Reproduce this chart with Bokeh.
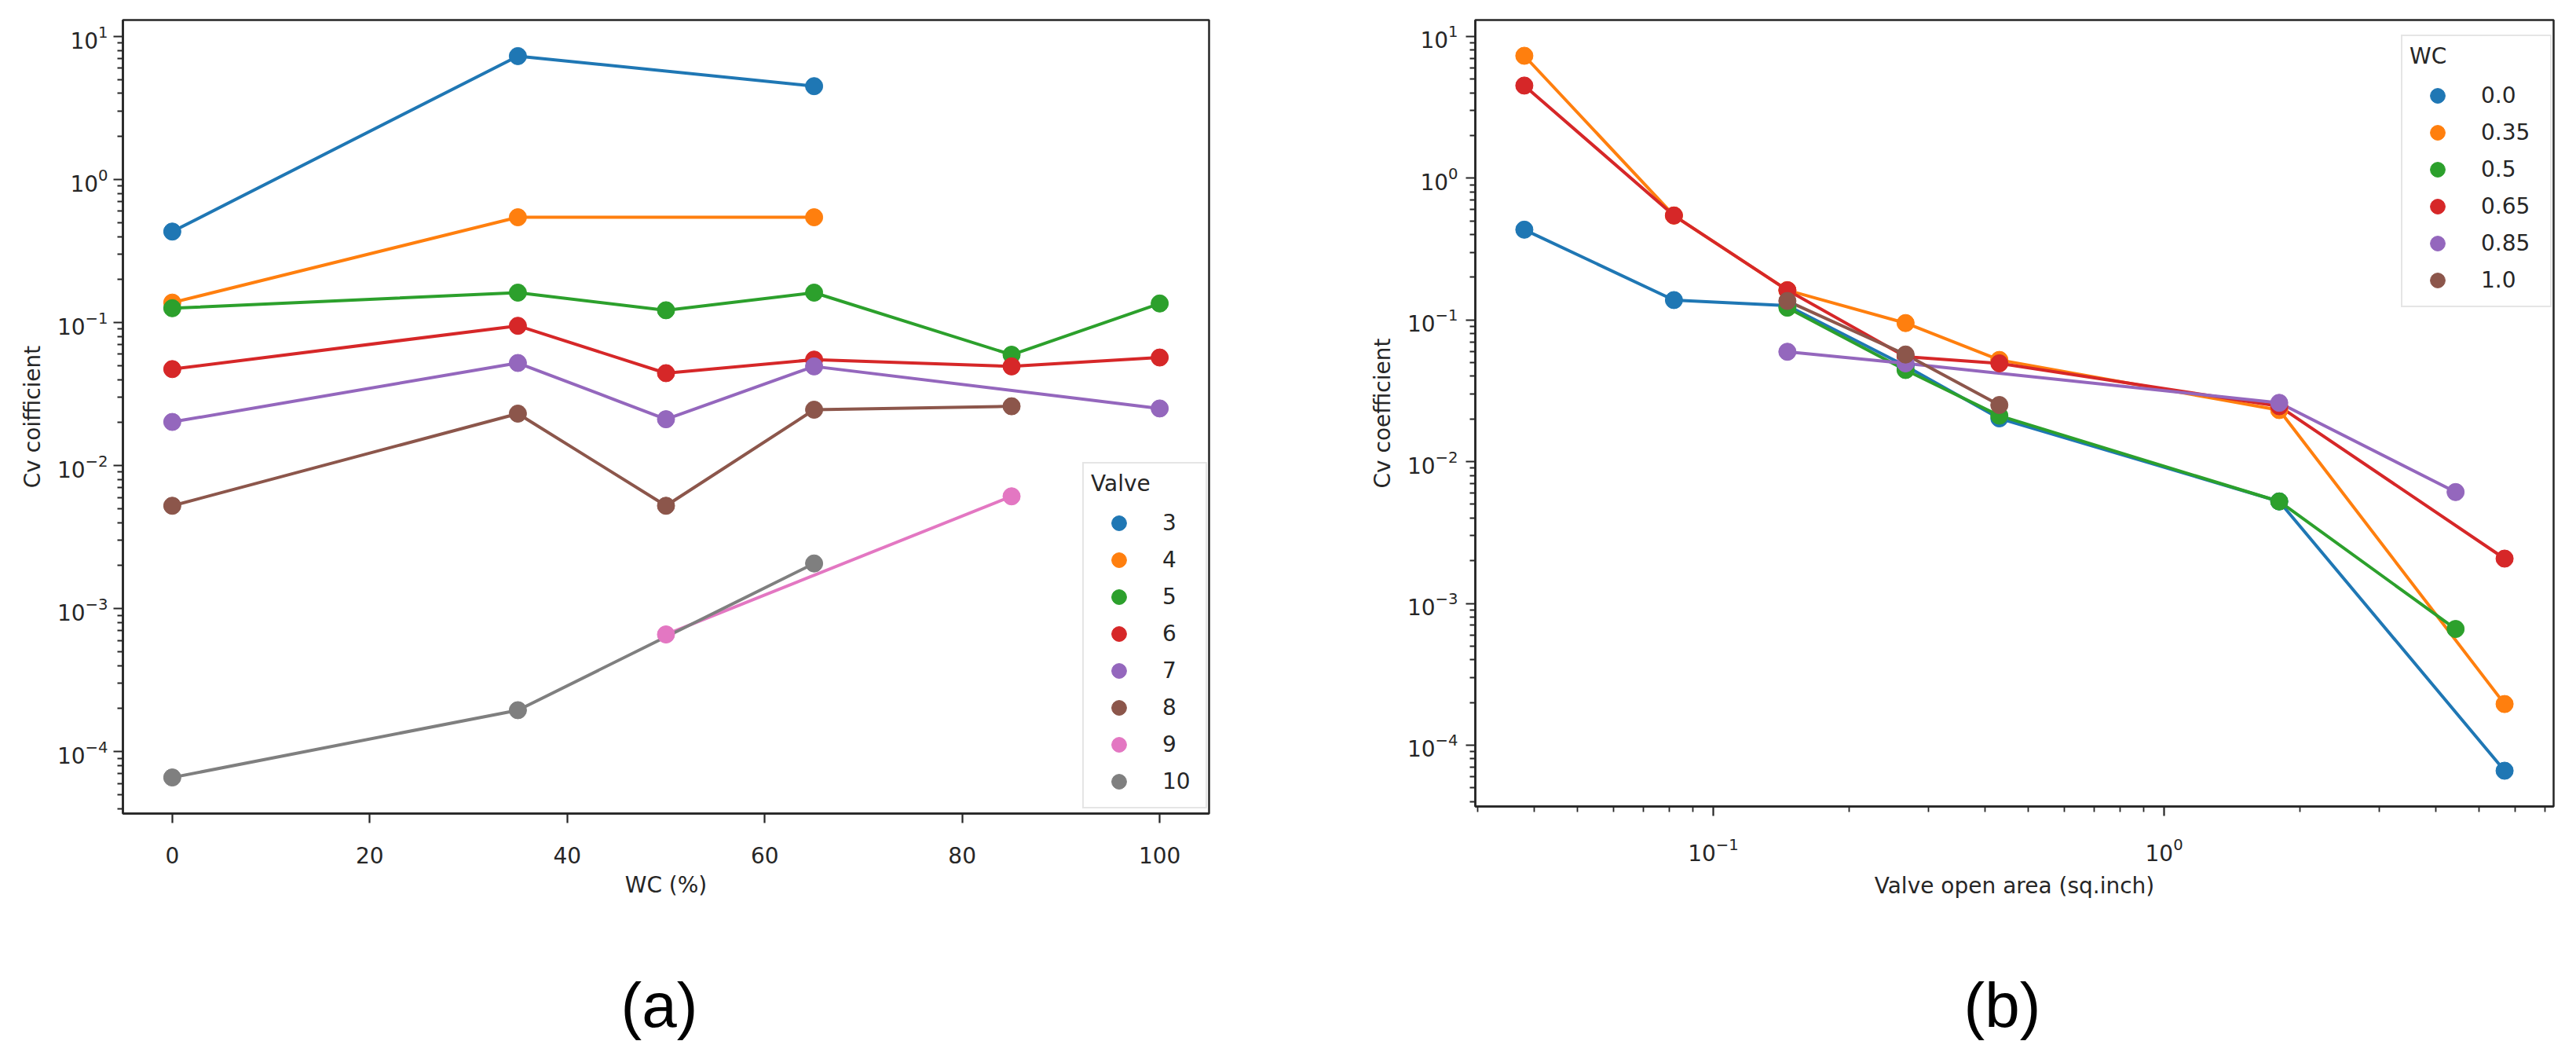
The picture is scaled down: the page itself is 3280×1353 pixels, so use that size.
import math
from bokeh.plotting import figure
from bokeh.models import Range1d, FixedTicker, Legend, LegendItem, Label
from bokeh.layouts import row, column
from bokeh.embed import file_html
from bokeh.resources import INLINE

NaN = float("nan")

# ---------------- data ----------------
wc_pct = [0, 35, 50, 65, 85, 100]
wc_labels = ["0.0", "0.35", "0.5", "0.65", "0.85", "1.0"]
valves = [3, 4, 5, 6, 7, 8, 9, 10]
valve_area = [0.0381, 0.0818, 0.146, 0.267, 0.431, 1.80, 4.43, 5.69]

cv_valve3 = [0.433, 7.3, NaN, 4.5, NaN, NaN]
cv_valve4 = [0.138, 0.545, NaN, 0.545, NaN, NaN]
cv_valve5 = [0.126, 0.162, 0.122, 0.162, 0.0596, 0.136]
cv_valve6 = [0.0473, 0.095, 0.0443, 0.0551, 0.0494, 0.057]
cv_valve7 = [0.0202, 0.0522, 0.0211, 0.0494, NaN, 0.0251]
cv_valve8 = [0.00524, 0.0231, 0.00524, 0.0246, 0.026, NaN]
cv_valve9 = [NaN, NaN, 6.6e-4, NaN, 6.1e-3, NaN]
cv_valve10 = [6.6e-5, 1.95e-4, NaN, 2.07e-3, NaN, NaN]

cv_table = [cv_valve3, cv_valve4, cv_valve5, cv_valve6,
            cv_valve7, cv_valve8, cv_valve9, cv_valve10]

colors = ["#1f77b4", "#ff7f0e", "#2ca02c", "#d62728",
          "#9467bd", "#8c564b", "#e377c2", "#7f7f7f"]

y_major = [1e-4, 1e-3, 1e-2, 1e-1, 1.0, 10.0]
x_ticks_a = [0, 20, 40, 60, 80, 100]
x_major_b = [0.1, 1.0]

INK = "#262626"
FONT = "DejaVu Sans"


def ok(v):
    return not math.isnan(v)


all_cv = [v for r in cv_table for v in r if ok(v)]


def log_range(vals):
    lo = math.log10(min(vals))
    hi = math.log10(max(vals))
    m = 0.05 * (hi - lo)
    return Range1d(10 ** (lo - m), 10 ** (hi + m))


def lin_range(vals):
    lo, hi = min(vals), max(vals)
    m = 0.05 * (hi - lo)
    return Range1d(lo - m, hi + m)


def minor_log(rng):
    out = []
    for e in range(-6, 3):
        for k in range(2, 10):
            t = k * 10 ** e
            if rng.start <= t <= rng.end:
                out.append(t)
    return out


def style_axis(ax, label_standoff, tick_standoff):
    ax.axis_line_color = INK
    ax.axis_line_width = 2.5
    ax.major_tick_line_color = INK
    ax.major_tick_line_width = 2.2
    ax.major_tick_out = 12
    ax.major_tick_in = 0
    ax.minor_tick_line_color = INK
    ax.minor_tick_line_width = 1.8
    ax.minor_tick_out = 7
    ax.minor_tick_in = 0
    ax.major_label_text_font = FONT
    ax.major_label_text_font_size = "28px"
    ax.major_label_text_color = INK
    ax.major_label_standoff = tick_standoff
    ax.axis_label_text_font = FONT
    ax.axis_label_text_font_size = "28px"
    ax.axis_label_text_font_style = "normal"
    ax.axis_label_text_color = INK
    ax.axis_label_standoff = label_standoff


def style_fig(p):
    p.xgrid.visible = False
    p.ygrid.visible = False
    p.outline_line_color = INK
    p.outline_line_width = 2.5
    p.outline_line_alpha = 1.0
    p.background_fill_color = "white"
    p.border_fill_color = "white"


def make_legend(items, title, location, label_width):
    return Legend(
        items=items, title=title, location=location,
        label_text_font=FONT, label_text_font_size="28px", label_text_color=INK,
        title_text_font=FONT, title_text_font_size="28px",
        title_text_font_style="normal", title_text_color=INK,
        glyph_width=71, glyph_height=47, label_standoff=20,
        label_width=label_width,
        spacing=0, padding=9, margin=0, title_standoff=10,
        border_line_color="#cccccc", border_line_width=2,
        background_fill_color="white", background_fill_alpha=0.8,
    )


def caption_fig(width, height, text, cx, cy_from_bottom):
    c = figure(width=width, height=height, min_border=0,
               x_axis_type=None, y_axis_type=None,
               x_range=Range1d(0, 1), y_range=Range1d(0, 1),
               output_backend="svg", toolbar_location=None)
    c.xgrid.visible = False
    c.ygrid.visible = False
    c.outline_line_color = None
    c.background_fill_color = "white"
    c.border_fill_color = "white"
    c.add_layout(Label(x=cx, y=cy_from_bottom, x_units="screen", y_units="screen",
                       text=text, text_align="center", text_baseline="middle",
                       text_font="Liberation Sans", text_font_size="80px",
                       text_color="black"))
    return c


# ---------------- (a) Cv vs WC ----------------
yr_a = log_range(all_cv)
p1 = figure(frame_width=1383, frame_height=1010,
            min_border_left=156, min_border_right=153,
            min_border_top=25, min_border_bottom=140,
            x_range=lin_range(wc_pct), y_range=yr_a,
            y_axis_type="log", output_backend="svg", toolbar_location=None)
style_fig(p1)

for vals, c in zip(cv_table, colors):
    xs = [w for w, v in zip(wc_pct, vals) if ok(v)]
    ys = [v for v in vals if ok(v)]
    p1.line(xs, ys, line_color=c, line_width=4)

items_a = []
for valve, vals, c in zip(valves, cv_table, colors):
    xs = [w for w, v in zip(wc_pct, vals) if ok(v)]
    ys = [v for v in vals if ok(v)]
    r = p1.scatter(xs, ys, size=22, fill_color=c, line_color=c)
    items_a.append(LegendItem(label=str(valve), renderers=[r]))

p1.xaxis.ticker = FixedTicker(ticks=x_ticks_a)
p1.yaxis.ticker = FixedTicker(ticks=y_major, minor_ticks=minor_log(yr_a))
style_axis(p1.xaxis[0], 8, 30)
style_axis(p1.yaxis[0], 12, 7)
p1.xaxis.minor_tick_line_color = None
p1.xaxis.axis_label = "WC (%)"
p1.yaxis.axis_label = "Cv coifficient"
p1.add_layout(make_legend(items_a, "Valve", (1222, 6), 46))

# ---------------- (b) Cv vs valve open area ----------------
yr_b = log_range(all_cv)
xr_b = log_range(valve_area)
p2 = figure(frame_width=1373, frame_height=1001,
            min_border_left=186, min_border_right=13,
            min_border_top=24, min_border_bottom=150,
            x_range=xr_b, y_range=yr_b,
            x_axis_type="log", y_axis_type="log",
            output_backend="svg", toolbar_location=None)
style_fig(p2)

series_b = []
for j in range(len(wc_pct)):
    xs = [a for a, r in zip(valve_area, cv_table) if ok(r[j])]
    ys = [r[j] for r in cv_table if ok(r[j])]
    series_b.append((xs, ys))

for (xs, ys), c in zip(series_b, colors):
    p2.line(xs, ys, line_color=c, line_width=4)

items_b = []
for (xs, ys), lab, c in zip(series_b, wc_labels, colors):
    r = p2.scatter(xs, ys, size=22, fill_color=c, line_color=c)
    items_b.append(LegendItem(label=lab, renderers=[r]))

p2.xaxis.ticker = FixedTicker(ticks=x_major_b, minor_ticks=minor_log(xr_b))
p2.yaxis.ticker = FixedTicker(ticks=y_major, minor_ticks=minor_log(yr_b))
style_axis(p2.xaxis[0], 12, 27)
style_axis(p2.yaxis[0], 12, 10)
p2.xaxis.axis_label = "Valve open area (sq.inch)"
p2.yaxis.axis_label = "Cv coefficient"
p2.add_layout(make_legend(items_b, "WC", (1179, 635), 79))

# ---------------- captions ----------------
cap_a = caption_fig(1692, 162, "(a)", 839, 58)
cap_b = caption_fig(1572, 162, "(b)", 857, 58)

layout = column(row(p1, p2), row(cap_a, cap_b))
open("out.html", "w").write(file_html(layout, INLINE))
